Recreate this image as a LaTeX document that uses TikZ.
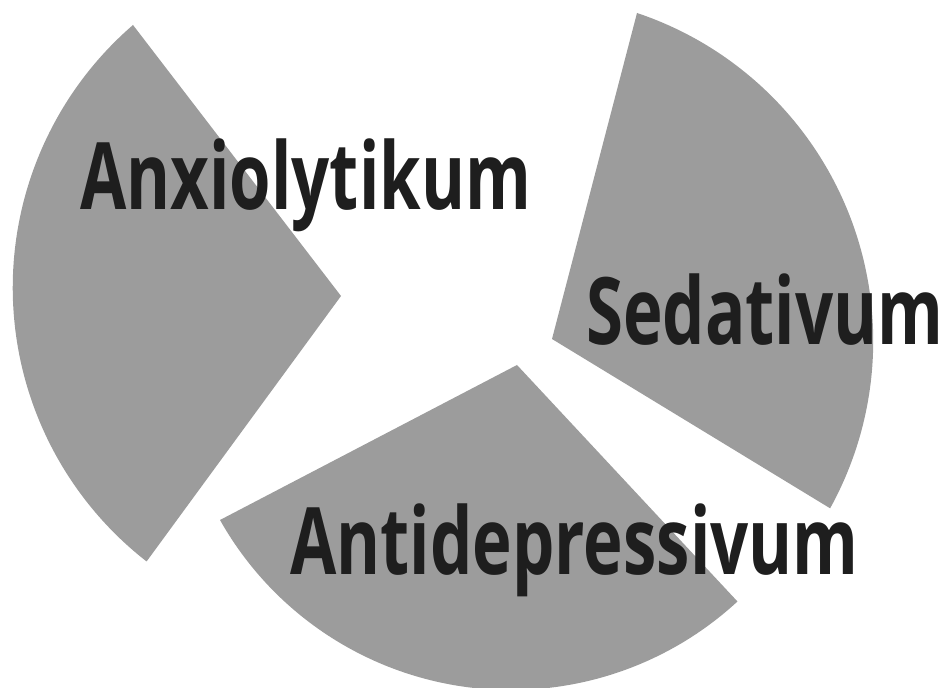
\documentclass[tikz,border=0pt]{standalone}
\usepackage{fontspec}
\usepackage{xcolor}
\usepackage{tikz}
\newfontfamily\drugfont{Open Sans}[FakeStretch=0.72]
\definecolor{ink}{HTML}{1E1E1E}
\definecolor{screen}{HTML}{9C9C9C}

\begin{document}
\begin{tikzpicture}[x=0.02cm,y=-0.02cm,
  sector/.style={fill=screen},
  drug/.style={anchor=base west,inner sep=0pt,text=ink,font=\drugfont\bfseries\fontsize{53}{60}\selectfont}]
\useasboundingbox (0,0) rectangle (947,688);
\fill[sector] (341,296) -- (133,25) arc[start angle=229.2,end angle=127.9,radius=347] -- cycle;
\fill[sector] (552,339) -- (637,13) arc[start angle=-71.5,end angle=28.9,radius=346] -- cycle;
\fill[sector] (517,365) -- (220,520) arc[start angle=150.6,end angle=47.3,radius=334] -- cycle;
\node[drug] (anx) at (80,210) {Anxiolytikum};
\node[drug] (sed) at (586,345) {Sedativum};
\node[drug] (anti) at (290,575) {Antidepressivum};
\end{tikzpicture}
\end{document}
